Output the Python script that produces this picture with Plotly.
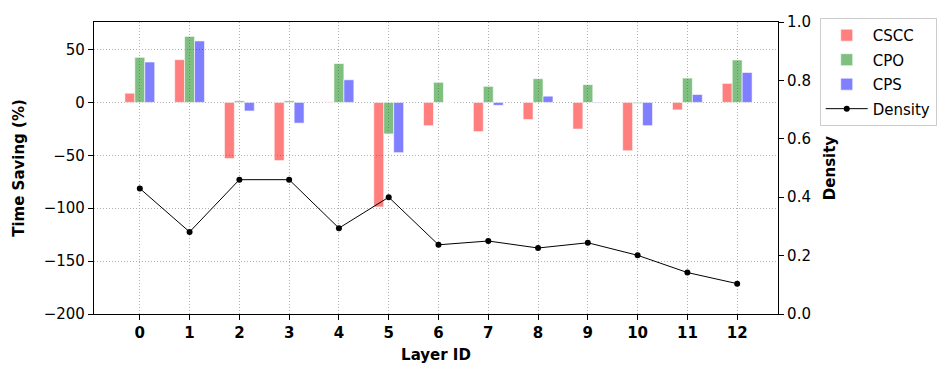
import plotly.graph_objects as go

# Data
layers = list(range(13))
cscc = [8.7, 40.4, -53.1, -55.0, 0.5, -98.8, -22.0, -27.6, -16.2, -25.2, -45.7, -7.1, 18.0]
cpo = [42.6, 62.4, 1.5, 1.5, 36.7, -29.8, 19.0, 15.2, 22.4, 16.8, -1.0, 23.0, 40.1]
cps = [38.2, 58.1, -8.1, -19.6, 21.4, -47.5, 0.0, -2.8, 5.9, -0.6, -22.0, 7.5, 28.3]
density = [0.430, 0.281, 0.460, 0.460, 0.294, 0.400, 0.237, 0.250, 0.226, 0.244, 0.201, 0.142, 0.104]
tick_labels = [f"<b>{l}</b>" for l in layers]

FONT = "DejaVu Sans"

fig = go.Figure()

bar_series = [
    ("CSCC", cscc, "rgba(255,0,0,0.5)"),
    ("CPO", cpo, "rgba(0,128,0,0.5)"),
    ("CPS", cps, "rgba(0,0,255,0.5)"),
]
for name, vals, color in bar_series:
    fig.add_trace(go.Bar(
        x=layers, y=vals, name=name, legendgroup=name,
        marker=dict(color=color, line=dict(color="rgba(255,255,255,0.6)", width=1)),
    ))

fig.add_trace(go.Scatter(
    x=layers, y=density, name="Density", yaxis="y2", legendgroup="Density",
    mode="lines+markers",
    line=dict(color="black", width=1),
    marker=dict(color="black", size=6),
))

axis_common = dict(
    showline=True, linecolor="black", linewidth=1.2,
    ticks="outside", ticklen=5, tickcolor="black",
    tickfont=dict(family=FONT, size=15, color="black"),
    zeroline=False, automargin=False,
)
grid = dict(showgrid=True, gridcolor="#b0b0b0", griddash="1px,2px", gridwidth=1)
title_font = dict(family=FONT, size=15, color="black")

# page body has an 8px margin, so the figure is offset by 8px
fig.update_layout(
    width=943, height=372,
    margin=dict(l=86, r=173, t=10, b=66),
    plot_bgcolor="white", paper_bgcolor="white",
    barmode="group", bargap=0.4, bargroupgap=0,
    font=dict(family=FONT, color="black"),
    xaxis=dict(
        **axis_common, **grid,
        range=[-0.92, 12.82], tickvals=layers, ticktext=tick_labels,
        mirror=True,
        title=dict(text="<b>Layer ID</b>", font=title_font, standoff=8),
    ),
    yaxis=dict(
        **axis_common, **grid,
        range=[-200, 76], tickvals=[-200, -150, -100, -50, 0, 50],
        mirror=True,
        title=dict(text="<b>Time Saving (%)</b>", font=title_font, standoff=15),
    ),
    yaxis2=dict(
        **axis_common,
        overlaying="y", side="right",
        range=[0, 1], tickvals=[0, 0.2, 0.4, 0.6, 0.8, 1.0], tickformat=".1f",
        showgrid=False,
        title=dict(text="<b>Density</b>", font=title_font, standoff=14),
    ),
    legend=dict(
        x=1.061, y=1.014, xanchor="left", yanchor="top",
        bordercolor="#cccccc", borderwidth=1, bgcolor="white",
        font=dict(family=FONT, size=15),
        tracegroupgap=2, itemwidth=42,
    ),
)

fig.write_html("out.html")
